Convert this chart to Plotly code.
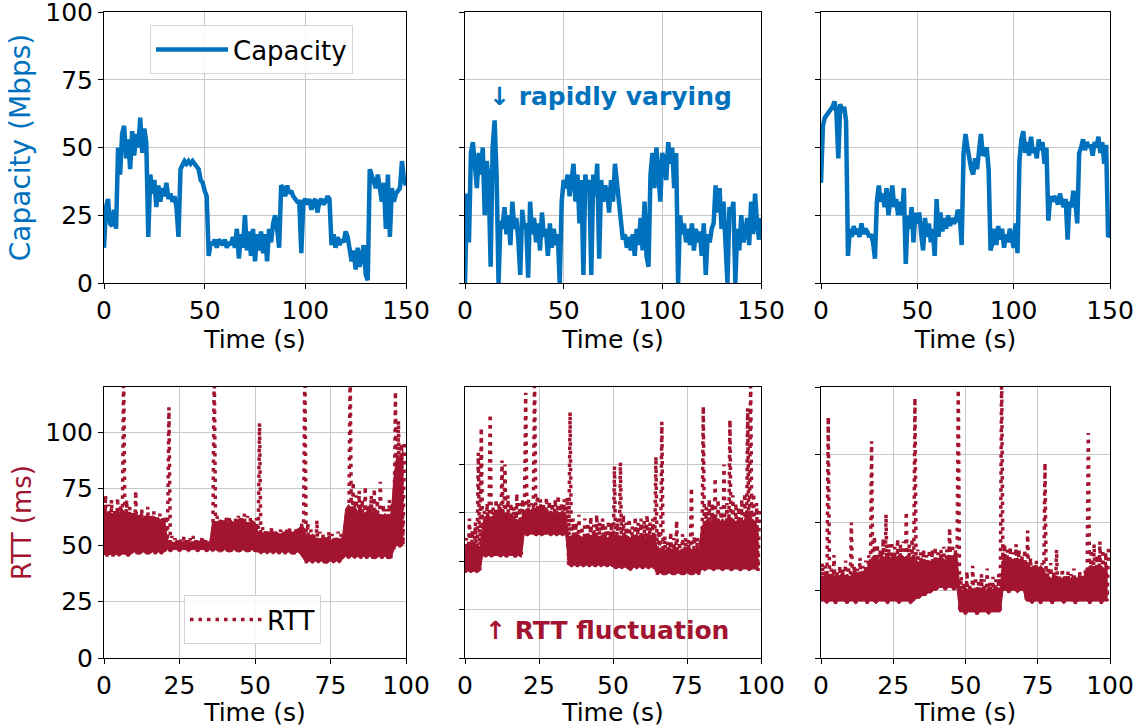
import plotly.graph_objects as go

BLUE = "#0072BD"
RED = "#A2142F"
FONT = "DejaVu Sans"
W, H = 1138, 727

# ---------------- data ----------------
cap_time = list(range(151))

cap_1 = [13, 28, 31, 22, 21, 27, 20, 50, 40, 55, 58, 46, 53, 42, 56, 47, 55, 50, 61, 48,
         57, 52, 17, 40, 33, 38, 28, 36, 30, 35, 32, 37, 31, 33, 30, 32, 28, 17, 42, 44,
         45, 44, 45, 44, 45, 44, 43, 42, 38, 37, 34, 32, 10, 15, 14, 16, 13, 16, 15, 14,
         16, 13, 15, 14, 17, 13, 20, 9, 18, 13, 25, 12, 19, 10, 20, 8, 18, 12, 19, 11,
         18, 8, 20, 15, 22, 25, 20, 13, 36, 35, 32, 36, 33, 34, 32, 31, 30, 30, 11, 30,
         31, 29, 31, 27, 30, 31, 26, 30, 31, 29, 30, 32, 31, 14, 18, 13, 17, 14, 16, 15,
         19, 17, 12, 8, 12, 5, 13, 6, 10, 14, 3, 1, 42, 40, 38, 35, 40, 34, 30, 37,
         20, 40, 17, 35, 30, 33, 34, 35, 45, 38, 36]

cap_2 = [0, 33, 15, 48, 52, 44, 35, 48, 40, 50, 25, 45, 38, 6, 50, 60, 40, 0, 23, 20,
         28, 18, 25, 14, 30, 20, 24, 16, 3, 27, 20, 22, 2, 30, 18, 24, 15, 22, 12, 26,
         17, 20, 10, 22, 13, 20, 14, 18, 0, 30, 38, 35, 40, 32, 38, 44, 30, 40, 22, 38,
         3, 40, 34, 38, 3, 40, 32, 44, 9, 38, 30, 36, 34, 26, 38, 30, 44, 36, 28, 22,
         16, 18, 13, 17, 12, 18, 10, 20, 14, 24, 12, 30, 10, 6, 40, 48, 35, 50, 42, 30,
         48, 45, 38, 52, 44, 50, 35, 48, 0, 25, 18, 22, 15, 20, 14, 22, 12, 20, 15, 19,
         10, 22, 3, 18, 15, 20, 22, 36, 26, 35, 20, 30, 15, 0, 28, 25, 30, 0, 20, 12,
         25, 15, 18, 24, 14, 30, 18, 33, 22, 16, 24]

cap_3 = [37, 58, 61, 62, 63, 64, 65, 67, 63, 46, 66, 63, 65, 60, 10, 20, 17, 21, 18, 20,
         17, 22, 18, 20, 19, 17, 18, 15, 9, 30, 36, 30, 33, 28, 35, 25, 32, 36, 28, 31,
         25, 30, 25, 35, 7, 25, 20, 28, 15, 26, 22, 26, 18, 12, 24, 17, 22, 15, 20, 10,
         31, 17, 26, 19, 24, 20, 25, 21, 24, 22, 23, 27, 25, 14, 48, 55, 50, 45, 42, 40,
         46, 42, 48, 55, 47, 48, 50, 42, 12, 15, 20, 14, 21, 16, 20, 13, 18, 15, 20, 17,
         13, 22, 11, 45, 53, 56, 48, 52, 47, 54, 48, 50, 46, 53, 49, 52, 44, 50, 23, 32,
         30, 32, 31, 29, 33, 30, 28, 31, 16, 30, 28, 34, 30, 22, 48, 50, 53, 49, 52, 50,
         51, 47, 52, 50, 54, 48, 52, 44, 51, 17, 18]

rtt_time = list(range(100))

# lower edge, dense-core upper edge and outlier/spike upper edge of the RTT band, per second
rtt_1_low = [46, 45, 46, 45, 46, 45, 46, 46, 45, 46, 47, 46, 46, 47, 46, 46, 47, 46, 47, 46, 47,
             48, 47, 48, 48, 47, 48, 48, 47, 48, 48, 47, 48, 48, 47, 48,
             47, 48, 47, 47, 48, 47, 47, 48, 47, 47, 48, 47, 47, 48, 47,
             47, 46, 47, 46, 47, 46, 47, 46, 47, 46, 47, 46, 46, 47, 46,
             44, 42, 43, 42, 43, 42, 43, 42, 42, 43, 42, 43, 42, 44,
             45, 44, 45, 44, 45, 44, 45, 44, 45, 44, 44, 45, 44, 45, 44, 44,
             48, 50, 49, 50]
rtt_1_core = [66, 64, 65, 63, 65, 64, 66, 64, 63, 62, 64, 63, 63, 62, 63, 62, 63, 62, 62, 61, 62,
              52, 52, 51, 52, 52, 51, 52, 52, 51, 52, 52, 51, 52, 52, 51,
              61, 60, 60, 61, 60, 60, 61, 60, 61, 62, 61, 60, 60, 61, 60,
              56, 55, 55, 56, 55, 55, 56, 55, 55, 56, 55, 55, 56, 57, 58,
              58, 54, 53, 55, 53, 53, 52, 53, 53, 52, 53, 53, 52, 54,
              66, 68, 65, 68, 64, 67, 64, 65, 68, 64, 66, 63, 62, 64, 63, 62,
              80, 90, 88, 92]
rtt_1_high = [72, 68, 70, 66, 71, 68, 130, 70, 67, 65, 74, 64, 66, 63, 67, 64, 65, 63, 64, 62, 63,
              111, 54, 53, 52, 53, 54, 52, 53, 54, 52, 53, 54, 53, 52, 53,
              130, 63, 62, 61, 63, 62, 61, 62, 63, 62, 64, 63, 62, 61, 62,
              104, 58, 57, 56, 58, 57, 56, 57, 56, 57, 58, 56, 57, 58, 60,
              130, 60, 57, 55, 61, 56, 55, 54, 56, 55, 54, 56, 55, 54, 56,
              130, 78, 72, 74, 70, 76, 68, 72, 75, 70, 78, 68, 66, 70, 69,
              118, 105, 95, 97]

rtt_2_low = [44, 45, 44, 45, 44, 45,
             53, 52, 53, 52, 53, 53, 52, 53, 52, 53, 53, 52, 53, 52,
             64, 63, 64, 64, 63, 64, 63, 64, 64, 63, 64, 63, 64, 63, 64,
             48, 47, 48, 47, 48, 47, 48, 47, 48, 47, 48, 47, 48, 47, 48,
             47, 46, 47, 46, 47, 46, 45, 47, 46, 47, 46, 47, 46, 47, 46,
             43, 44, 43, 43, 44, 43, 43, 44, 43, 43, 44, 43, 43, 44, 43,
             46, 45, 46, 46, 45, 46, 46, 45, 46, 46, 45, 46, 46, 45, 46, 46, 45, 46, 46, 45]
rtt_2_core = [55, 60, 58, 60, 58, 56,
              70, 72, 74, 72, 75, 76, 78, 76, 74, 73, 72, 72, 71, 72,
              76, 77, 76, 78, 77, 76, 77, 76, 75, 76, 75, 76, 75, 76, 75,
              62, 63, 62, 64, 63, 62, 63, 62, 63, 64, 63, 62, 63, 62, 63,
              64, 62, 63, 62, 64, 63, 62, 63, 64, 62, 63, 62, 64, 63, 64,
              56, 57, 55, 56, 57, 56, 58, 55, 56, 55, 56, 57, 55, 56, 57,
              68, 70, 72, 70, 74, 72, 70, 72, 70, 73, 72, 70, 71, 72, 70, 74, 76, 72, 70, 68]
rtt_2_high = [62, 72, 66, 70, 106, 119,
              76, 80, 126, 78, 82, 80, 102, 100, 84, 80, 78, 85, 80, 82,
              137, 82, 80, 145, 84, 82, 80, 83, 81, 80, 82, 84, 80, 82, 83,
              127, 72, 70, 74, 68, 72, 70, 73, 69, 74, 70, 72, 68, 71, 70,
              99, 72, 101, 74, 70, 72, 68, 73, 70, 72, 71, 74, 70, 72, 104,
              66, 122, 63, 60, 65, 62, 71, 60, 64, 62, 61, 88, 63, 62, 60,
              130, 78, 82, 80, 93, 82, 78, 100, 80, 123, 84, 80, 78, 82, 85, 129, 145, 85, 80, 78]

rtt_3_low = [21, 21, 20, 21, 21, 20, 21, 21, 21, 20, 21, 21, 20, 21, 21, 21, 20,
             21, 21, 20, 21, 21, 21, 20, 21, 21, 21, 20, 21, 21, 21, 20, 21,
             22, 22, 23, 23, 24, 24, 25, 25, 26, 26, 25, 26, 26, 25, 26,
             17, 17, 16, 17, 17, 17, 16, 17, 17, 17, 16, 17, 17, 17, 17,
             25, 25, 24, 25, 25, 24, 25, 25, 21, 21, 20, 21, 21, 20, 21,
             21, 21, 20, 21, 21, 21, 20, 21, 21, 21, 20, 21, 21, 21,
             21, 20, 21, 21, 21, 20, 21, 21]
rtt_3_core = [30, 30, 31, 30, 31, 30, 30, 31, 30, 31, 30, 31, 32, 31, 32, 32, 33,
              36, 37, 37, 36, 38, 37, 38, 37, 38, 37, 38, 38, 37, 38, 37, 38,
              36, 35, 35, 36, 36, 35, 36, 36, 37, 37, 36, 37, 37, 38, 38,
              26, 25, 26, 25, 26, 25, 26, 25, 26, 25, 26, 25, 26, 25, 26,
              37, 36, 37, 36, 36, 37, 36, 35, 34, 34, 33, 34, 33, 34, 33,
              30, 30, 29, 30, 30, 29, 30, 30, 29, 30, 30, 29, 30, 30,
              33, 34, 34, 33, 34, 34, 33, 34]
rtt_3_high = [35, 34, 89, 33, 38, 32, 34, 33, 36, 34, 50, 34, 33, 37, 34, 36, 38,
              80, 45, 42, 40, 44, 53, 42, 43, 41, 44, 42, 43, 54, 42, 44, 96,
              40, 39, 40, 38, 40, 40, 41, 39, 40, 41, 40, 48, 42, 40, 99,
              30, 28, 32, 27, 34, 30, 28, 31, 29, 33, 28, 30, 29, 31, 105,
              42, 40, 41, 39, 42, 40, 38, 40, 47, 37, 35, 36, 34, 35, 72,
              33, 35, 32, 40, 31, 33, 30, 32, 31, 33, 30, 32, 31, 33,
              83, 40, 42, 38, 43, 40, 39, 42]

cap_xticks = [0, 50, 100, 150]
rtt_xticks = [0, 25, 50, 75, 100]
y_ticks = [0, 25, 50, 75, 100]
rtt_ylims = [120, 140, 100]


def zigzag(times, low, high):
    xs, ys = [], []
    for t, lo, hi in zip(times, low, high):
        xs += [t, t + 0.5]
        ys += [lo, hi]
    return xs, ys


fig = go.Figure()

# ---------------- layout geometry (px) ----------------
cols = [(104, 406), (465, 761), (821, 1110)]
rows = [(12, 283), (387, 658)]


def xd(c):
    return [cols[c][0] / W, cols[c][1] / W]


def yd(r):
    return [1 - rows[r][1] / H, 1 - rows[r][0] / H]


def ax(n):
    return ("x" if n == 1 else f"x{n}"), ("y" if n == 1 else f"y{n}")


caps = [cap_1, cap_2, cap_3]
rtts = [(rtt_1_low, rtt_1_core, rtt_1_high),
        (rtt_2_low, rtt_2_core, rtt_2_high),
        (rtt_3_low, rtt_3_core, rtt_3_high)]

for i in range(3):
    xa, ya = ax(i + 1)
    fig.add_trace(go.Scatter(
        x=cap_time, y=caps[i], mode="lines", name="Capacity",
        line=dict(color=BLUE, width=4.5), showlegend=(i == 0), legend="legend",
        xaxis=xa, yaxis=ya))
for i in range(3):
    xa, ya = ax(i + 4)
    low, core, high = rtts[i]
    # dense body of the RTT samples
    fig.add_trace(go.Scatter(
        x=rtt_time + rtt_time[::-1], y=low + core[::-1], mode="lines", fill="toself",
        fillcolor=RED, line=dict(color=RED, width=1), showlegend=False, hoverinfo="skip",
        xaxis=xa, yaxis=ya))
    xs, ys = zigzag(rtt_time, low, high)
    fig.add_trace(go.Scatter(
        x=xs, y=ys, mode="lines", name="RTT",
        line=dict(color=RED, width=3.5, dash="3.5px,5px"), showlegend=(i == 0),
        legend="legend2", xaxis=xa, yaxis=ya))

tickfont = dict(family=FONT, size=25, color="black")
common = dict(showline=True, mirror=True, linecolor="black", linewidth=1,
              ticks="outside", ticklen=5, tickcolor="black", showgrid=True,
              gridcolor="#c8c8c8", gridwidth=1, zeroline=False, tickfont=tickfont,
              automargin=False, ticklabeloverflow="allow")

lay = {}
for i in range(6):
    n = i + 1
    r = 0 if i < 3 else 1
    c = i % 3
    xa, ya = ax(n)
    xk = "xaxis" if n == 1 else f"xaxis{n}"
    yk = "yaxis" if n == 1 else f"yaxis{n}"
    lay[xk] = dict(common, domain=xd(c), anchor=ya,
                   range=[0, 150] if r == 0 else [0, 100],
                   tickvals=cap_xticks if r == 0 else rtt_xticks,
                   title=dict(text="Time (s)", font=dict(family=FONT, size=25, color="black"),
                              standoff=0))
    ytitle = None
    if c == 0:
        ytitle = dict(text="Capacity (Mbps)" if r == 0 else "RTT (ms)",
                      font=dict(family=FONT, size=28 if r == 0 else 26,
                                color=BLUE if r == 0 else RED),
                      standoff=6)
    lay[yk] = dict(common, domain=yd(r), anchor=xa,
                   range=[0, 100] if r == 0 else [0, rtt_ylims[c]],
                   tickvals=y_ticks, showticklabels=(c == 0),
                   title=ytitle)

fig.update_layout(
    width=W, height=H, margin=dict(l=0, r=0, t=0, b=0),
    paper_bgcolor="white", plot_bgcolor="white",
    font=dict(family=FONT, size=25, color="black"),
    legend=dict(x=150 / W, y=1 - 25 / H, xanchor="left", yanchor="top",
                bgcolor="rgba(255,255,255,0.85)", bordercolor="#d4d4d4", borderwidth=1,
                font=dict(family=FONT, size=26, color="black"), itemwidth=72),
    legend2=dict(x=184 / W, y=1 - 595 / H, xanchor="left", yanchor="top",
                 bgcolor="rgba(255,255,255,0.85)", bordercolor="#d4d4d4", borderwidth=1,
                 font=dict(family=FONT, size=26, color="black"), itemwidth=72),
    **lay)

fig.add_annotation(text="↓ rapidly varying", x=610 / W, y=1 - 97 / H, xref="paper", yref="paper",
                   showarrow=False, font=dict(family=FONT, size=25, color=BLUE, weight="bold"),
                   xanchor="center", yanchor="middle")
fig.add_annotation(text="↑ RTT fluctuation", x=607 / W, y=1 - 630 / H, xref="paper", yref="paper",
                   showarrow=False, font=dict(family=FONT, size=25, color=RED, weight="bold"),
                   xanchor="center", yanchor="middle")

fig.write_html("out.html", config={"displayModeBar": False},
               post_script="document.body.style.margin='0px';")
